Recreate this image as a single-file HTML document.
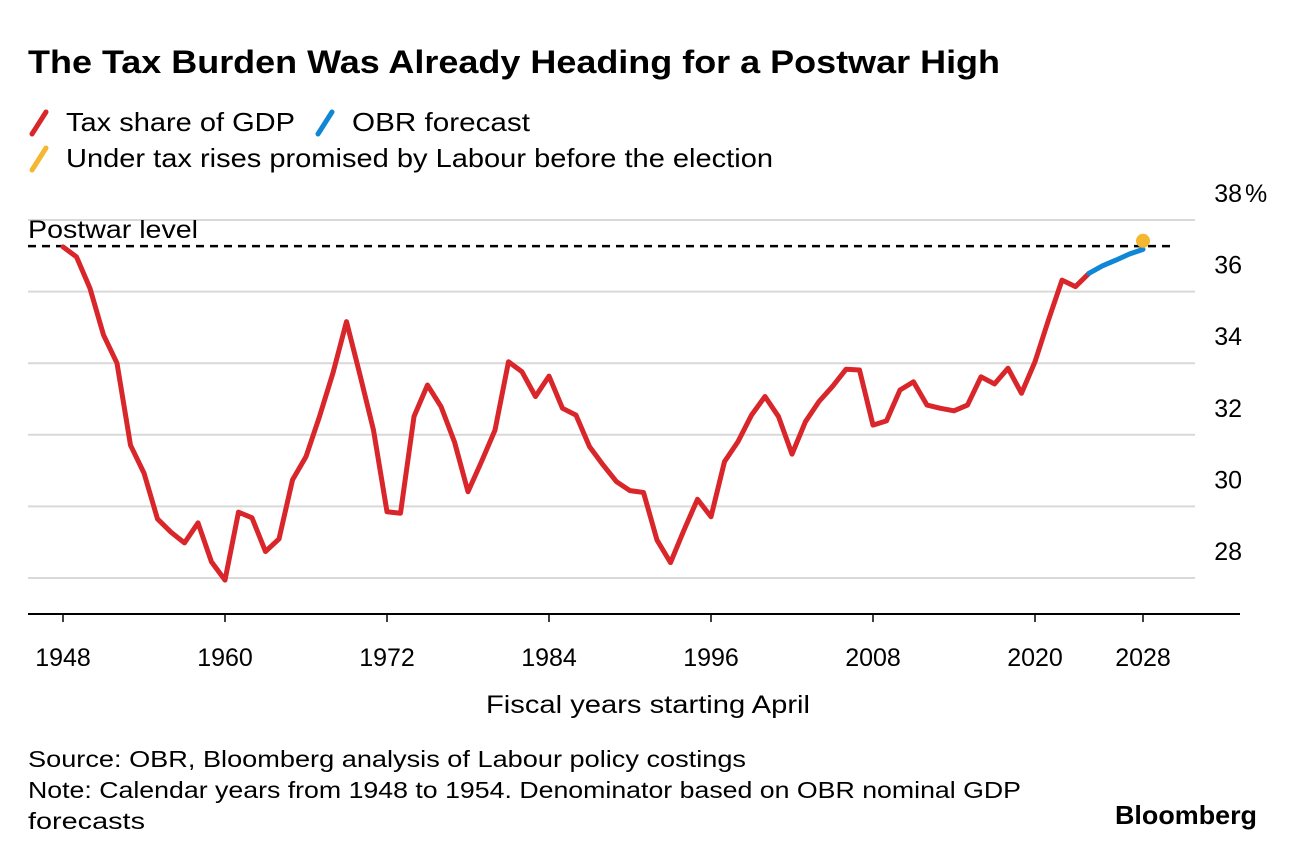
<!DOCTYPE html>
<html><head><meta charset="utf-8"><style>
body{margin:0;background:#fff;font-family:"Liberation Sans",Arial,sans-serif;}
svg text{font-family:"Liberation Sans",Arial,sans-serif;}
</style></head><body>
<svg id="chart" width="1296" height="860" viewBox="0 0 1296 860">
<text x="28" y="73" font-size="32" font-weight="bold" fill="#000" textLength="972" lengthAdjust="spacingAndGlyphs">The Tax Burden Was Already Heading for a Postwar High</text>
<g>
<line x1="32" y1="134" x2="46" y2="112" stroke="#d8262a" stroke-width="5" stroke-linecap="round"/>
<text x="66" y="131" font-size="26" textLength="229" lengthAdjust="spacingAndGlyphs">Tax share of GDP</text>
<line x1="318" y1="134" x2="332" y2="112" stroke="#0f87d6" stroke-width="5" stroke-linecap="round"/>
<text x="352" y="131" font-size="26" textLength="178" lengthAdjust="spacingAndGlyphs">OBR forecast</text>
<line x1="32" y1="170" x2="46" y2="148" stroke="#f5b731" stroke-width="5" stroke-linecap="round"/>
<text x="66" y="167" font-size="26" textLength="707" lengthAdjust="spacingAndGlyphs">Under tax rises promised by Labour before the election</text>
</g>
<g id="grid"></g>
<g id="axes"></g>
<g id="marks"></g>
<text x="486" y="713" font-size="25" textLength="324" lengthAdjust="spacingAndGlyphs">Fiscal years starting April</text>
<text x="28" y="767" font-size="23" textLength="718" lengthAdjust="spacingAndGlyphs">Source: OBR, Bloomberg analysis of Labour policy costings</text>
<text x="28" y="798" font-size="23" textLength="993" lengthAdjust="spacingAndGlyphs">Note: Calendar years from 1948 to 1954. Denominator based on OBR nominal GDP</text>
<text x="28" y="829" font-size="23" textLength="117" lengthAdjust="spacingAndGlyphs">forecasts</text>
<text x="1115" y="824" font-size="26" font-weight="bold" textLength="142" lengthAdjust="spacingAndGlyphs">Bloomberg</text>
</svg>
<script>
const startYear = 1948;
const taxShare = [37.25,36.97,36.09,34.79,34.0,31.71,30.93,29.65,29.28,28.98,29.54,28.45,27.94,29.84,29.68,28.74,29.09,30.74,31.39,32.51,33.73,35.16,33.67,32.13,29.85,29.81,32.51,33.39,32.79,31.8,30.41,31.25,32.13,34.04,33.76,33.07,33.64,32.74,32.55,31.67,31.16,30.69,30.44,30.39,29.06,28.43,29.34,30.2,29.71,31.25,31.81,32.55,33.07,32.51,31.46,32.37,32.93,33.35,33.83,33.81,32.27,32.39,33.25,33.48,32.83,32.74,32.67,32.83,33.62,33.42,33.86,33.16,34.04,35.21,36.32,36.14,36.51];
const forecastYears = [2024,2025,2026,2027,2028];
const forecastValues = [36.51,36.72,36.88,37.05,37.18];
const labourYear = 2028;
const labourValue = 37.42;
const postwarLevel = 37.27;
const yTicks = [28,30,32,34,36,38];
const xTicks = [1948,1960,1972,1984,1996,2008,2020,2028];

const NS="http://www.w3.org/2000/svg";
const xS = yr => 63 + (yr-1948)*13.5;
const yS = v => 220 + (38-v)*35.8;
function mk(tag, attrs, parent){const e=document.createElementNS(NS,tag);for(const k in attrs)e.setAttribute(k,attrs[k]);document.getElementById(parent).appendChild(e);return e;}

yTicks.forEach(v=>{
  const g=mk('line',{x1:28,x2:1195,y1:yS(v),y2:yS(v),stroke:'#d9d9d9','stroke-width':2},'grid');
  
  
  const t=mk('text',{x:1242,y:yS(v)-18,'font-size':25,'text-anchor':'end'},'grid');
  t.textContent=String(v);
  
  
  if(v===38){const p=mk('text',{x:1245,y:yS(v)-18,'font-size':25},'grid');p.textContent='%';
    
    }
});
const ax=mk('line',{x1:28,x2:1240,y1:614,y2:614,stroke:'#000','stroke-width':2},'axes');


xTicks.forEach(yr=>{
  const tk=mk('line',{x1:xS(yr),x2:xS(yr),y1:614,y2:622,stroke:'#000','stroke-width':1.5},'axes');
  
  
  const t=mk('text',{x:xS(yr),y:666,'font-size':25,'text-anchor':'middle'},'axes');
  t.textContent=String(yr);
  
  
});
const pl=mk('line',{x1:28,x2:1175,y1:yS(postwarLevel),y2:yS(postwarLevel),stroke:'#000','stroke-width':2.5,'stroke-dasharray':'8 6'},'marks');


const plt=mk('text',{x:28,y:yS(postwarLevel)-8,'font-size':25,textLength:170,lengthAdjust:'spacingAndGlyphs'},'marks');
plt.textContent='Postwar level';


const red=mk('polyline',{points:taxShare.map((v,i)=>xS(startYear+i)+','+yS(v)).join(' '),fill:'none',stroke:'#d8262a','stroke-width':5,'stroke-linejoin':'round','stroke-linecap':'round'},'marks');


const blue=mk('polyline',{points:forecastValues.map((v,i)=>xS(forecastYears[i])+','+yS(v)).join(' '),fill:'none',stroke:'#0f87d6','stroke-width':5,'stroke-linejoin':'round','stroke-linecap':'round'},'marks');


const dot=mk('circle',{cx:xS(labourYear),cy:yS(labourValue),r:7,fill:'#f5b731'},'marks');


</script>
</body></html>
